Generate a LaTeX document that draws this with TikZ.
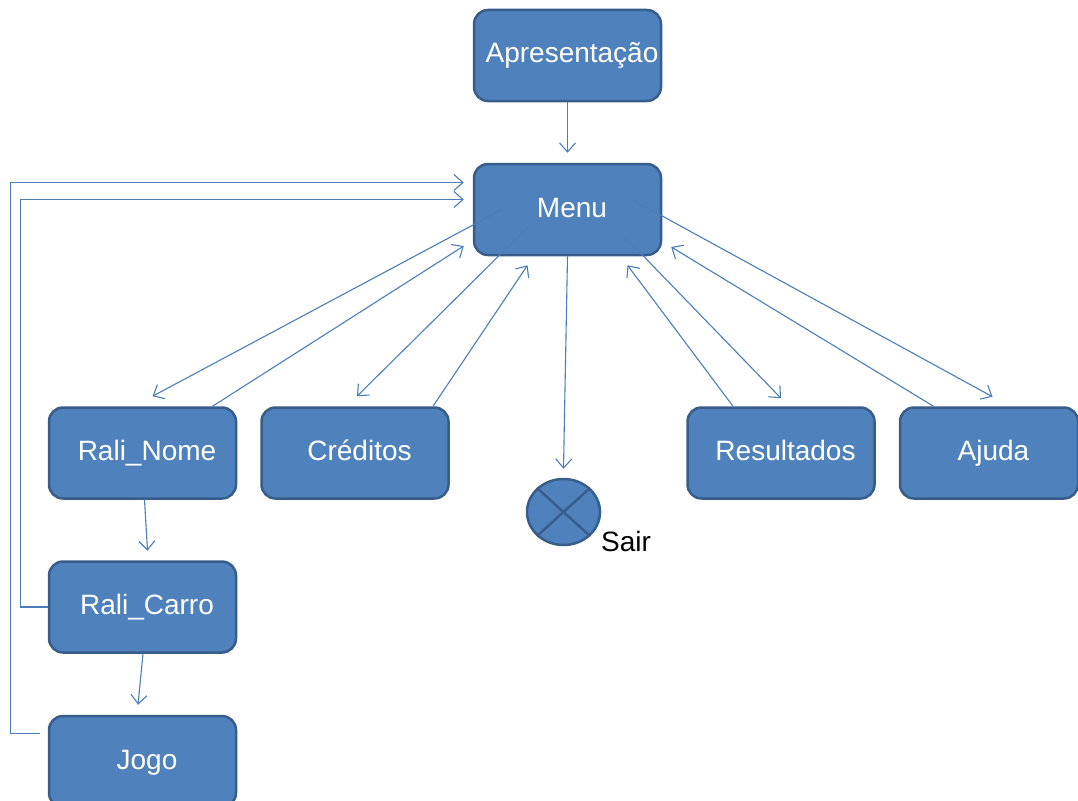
\documentclass[tikz,border=0pt]{standalone}
\usepackage{fontspec}
\setmainfont{Liberation Sans}
\usetikzlibrary{arrows.meta,shapes.geometric}
\definecolor{boxfill}{HTML}{4F81BD}
\definecolor{boxline}{HTML}{385D8A}
\definecolor{linkcol}{HTML}{4A7EBB}
\tikzset{
	ecra/.style={draw=boxline, line width=2.5pt, fill=boxfill, rounded corners=14pt,
		minimum width=187pt, minimum height=91pt, inner sep=0pt,
		text height=21pt, text depth=6pt,
		execute at begin node={\hspace*{9pt}},
		text=white, font=\fontsize{28}{33}\selectfont},
	liga/.style={draw=linkcol, line width=1.1pt,
		-{Straight Barb[length=9pt,width=16pt,line width=1.1pt]}},
}
\begin{document}
\begin{tikzpicture}[x=1pt,y=-1pt]
\useasboundingbox (0,0) rectangle (1078,800);
\node[ecra] (apres) at (567.5,55.5) {Apresentação};
\node[ecra] (menu) at (567.5,209.5) {Menu};
\node[ecra] (raliNome) at (142.5,453) {Rali\_Nome};
\node[ecra] (creditos) at (355,453) {Créditos};
\node[ecra] (resultados) at (781,453) {Resultados};
\node[ecra, minimum width=178pt] (ajuda) at (989,453) {Ajuda};
\node[ecra] (raliCarro) at (142.5,607) {Rali\_Carro};
\node[ecra] (jogo) at (142.5,761.5) {Jogo};
\node[ellipse, draw=boxline, line width=2.5pt, fill=boxfill, inner sep=0pt,
	minimum width=73pt, minimum height=66pt] (sair) at (563.5,512) {};
\draw[boxline, line width=2.5pt] (sair.north west) -- (sair.south east);
\draw[boxline, line width=2.5pt] (sair.north east) -- (sair.south west);
\node[font=\fontsize{28}{33}\selectfont] (sairtxt) at (626,541) {Sair};

\draw[liga] (apres.south) -- ([yshift=10pt]menu.north);
\draw[liga] ([xshift=-65.5pt]menu.center) -- ([xshift=10pt,yshift=10pt]raliNome.north);
\draw[liga] ([xshift=70pt]raliNome.north) -- ([xshift=-9pt,yshift=-36.5pt]menu.west);
\draw[liga] ([xshift=-39.5pt,yshift=-17.5pt]menu.center) -- ([xshift=2pt,yshift=10pt]creditos.north);
\draw[liga] ([xshift=78pt]creditos.north) -- ([xshift=-40pt,yshift=-9pt]menu.south);
\draw[liga] (menu.south) -- ([yshift=9pt]sair.north);
\draw[liga] ([xshift=-48pt]resultados.north) -- ([xshift=60pt,yshift=-9pt]menu.south);
\draw[liga] ([xshift=57.5pt,yshift=-27.5pt]menu.center) -- ([yshift=8pt]resultados.north);
\draw[liga] ([xshift=-55.5pt]ajuda.north) -- ([xshift=9pt,yshift=-37.5pt]menu.east);
\draw[liga] ([xshift=65.5pt,yshift=9.5pt]menu.center) -- ([xshift=3.5pt,yshift=9.5pt]ajuda.north);
\draw[liga] ([xshift=2pt]raliNome.south) -- ([xshift=5pt,yshift=9.5pt]raliCarro.north);
\draw[liga] ([xshift=0.5pt]raliCarro.south) -- ([xshift=-4.5pt,yshift=10pt]jogo.north);
\draw[liga] (raliCarro.west) -- ++(-27,0) |- ([xshift=-9pt,yshift=10pt]menu.west);
\draw[liga] ([xshift=-8pt,yshift=28pt]jogo.west) -- ++(-29,0) |- ([xshift=-9pt,yshift=27pt]menu.west);
\end{tikzpicture}
\end{document}
